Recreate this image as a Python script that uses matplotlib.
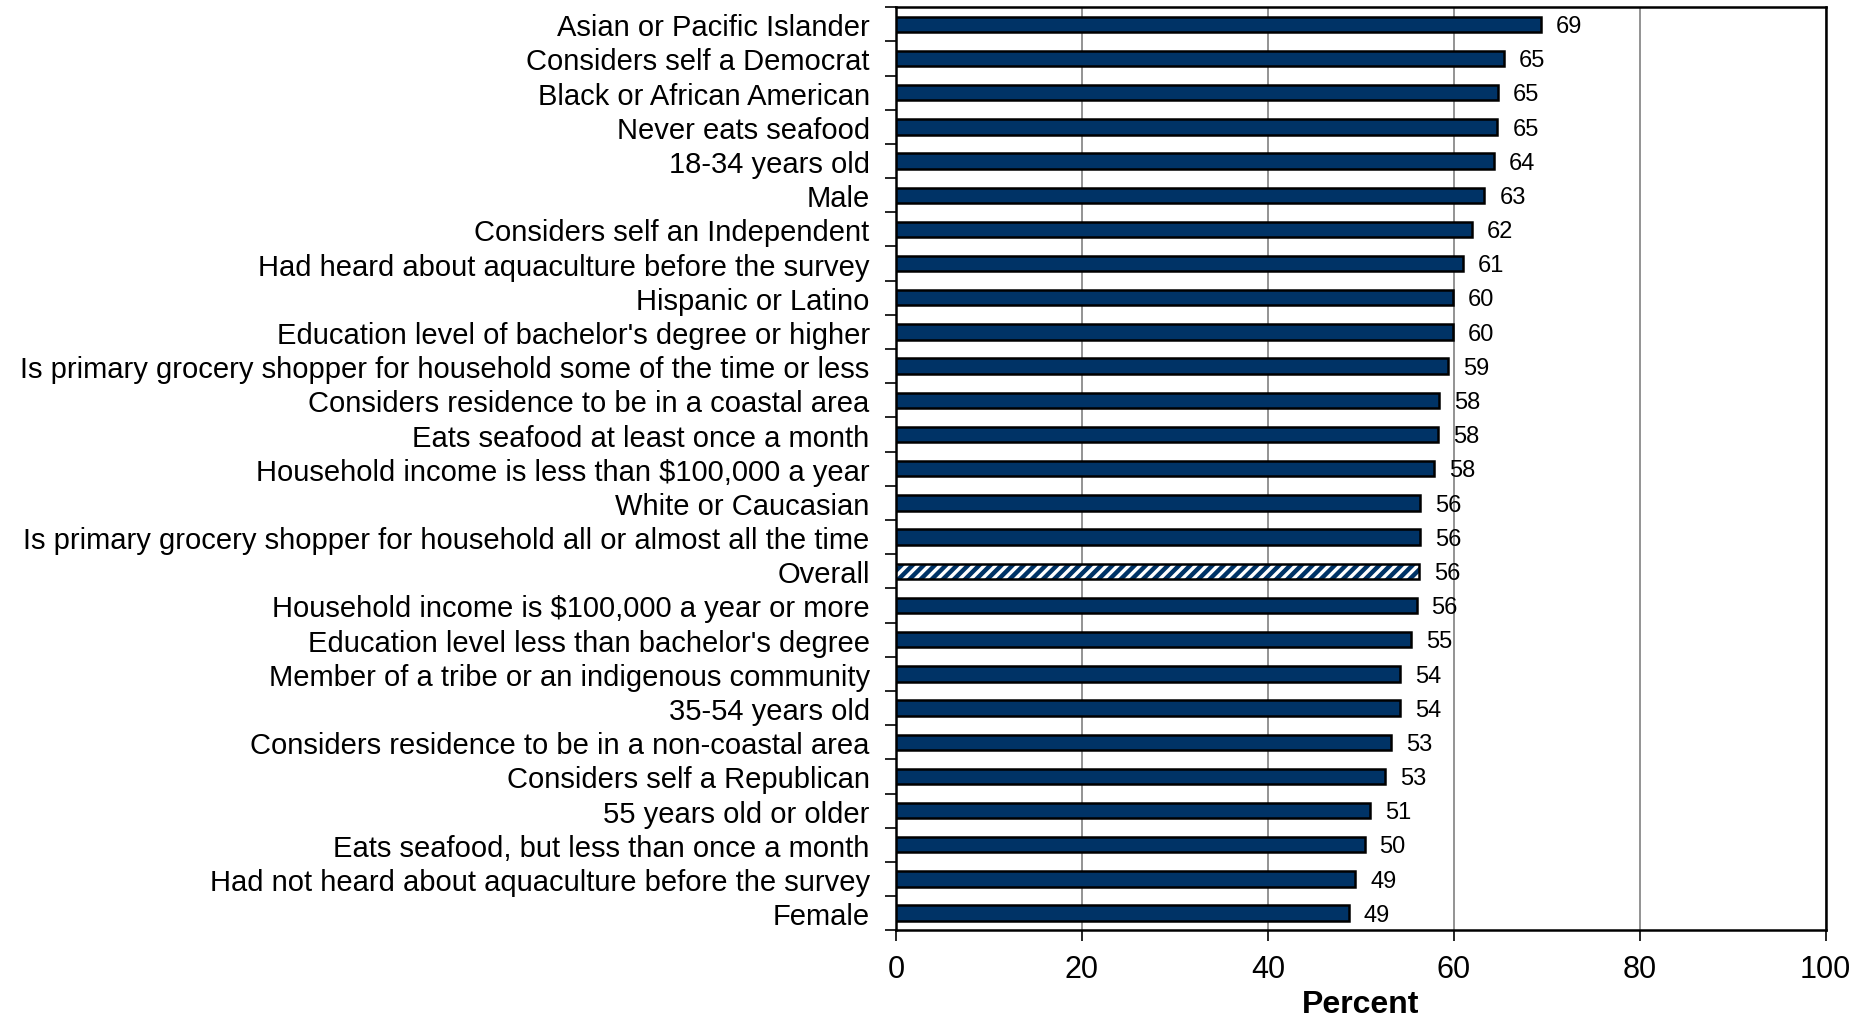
import matplotlib
matplotlib.use("Agg")
import matplotlib.pyplot as plt
import numpy as np

categories = [
    "Asian or Pacific Islander",
    "Considers self a Democrat",
    "Black or African American",
    "Never eats seafood",
    "18-34 years old",
    "Male",
    "Considers self an Independent",
    "Had heard about aquaculture before the survey",
    "Hispanic or Latino",
    "Education level of bachelor's degree or higher",
    "Is primary grocery shopper for household some of the time or less",
    "Considers residence to be in a coastal area",
    "Eats seafood at least once a month",
    "Household income is less than $100,000 a year",
    "White or Caucasian",
    "Is primary grocery shopper for household all or almost all the time",
    "Overall",
    "Household income is $100,000 a year or more",
    "Education level less than bachelor's degree",
    "Member of a tribe or an indigenous community",
    "35-54 years old",
    "Considers residence to be in a non-coastal area",
    "Considers self a Republican",
    "55 years old or older",
    "Eats seafood, but less than once a month",
    "Had not heard about aquaculture before the survey",
    "Female",
]
values = [69.4, 65.4, 64.8, 64.7, 64.3, 63.3, 62.0, 61.0, 59.9, 59.9, 59.4, 58.4,
          58.3, 57.9, 56.4, 56.4, 56.3, 56.0, 55.4, 54.2, 54.2, 53.3, 52.6, 51.0,
          50.4, 49.4, 48.7]
highlight = "Overall"
x_ticks = [0, 20, 40, 60, 80, 100]

NAVY = "#003366"
plt.rcParams["font.family"] = ["Liberation Sans", "DejaVu Sans"]
plt.rcParams["hatch.linewidth"] = 3.2

fig = plt.figure(figsize=(18.59, 10.20), dpi=100)
ax = fig.add_axes([0.482, 0.087, 0.5, 0.905])

y = np.arange(len(categories))
bh = 0.45
for yi, cat, v in zip(y, categories, values):
    if cat == highlight:
        ax.barh(yi, v, height=bh, facecolor="white", edgecolor=NAVY, hatch="///",
                linewidth=0, zorder=3)
        ax.barh(yi, v, height=bh, facecolor="none", edgecolor="black",
                linewidth=1.8, zorder=4)
    else:
        ax.barh(yi, v, height=bh, color=NAVY, edgecolor="black",
                linewidth=1.8, zorder=3)
    ax.text(v + 1.6, yi + 0.05, f"{v:.0f}", va="center", ha="left",
            fontsize=17, zorder=5)

ax.set_ylim(len(categories) - 0.5, -0.5)
ax.set_xlim(0, 100)
ax.set_yticks(y)
ax.set_yticklabels(categories, fontsize=21)
ax.tick_params(axis="y", length=0, pad=19)
ax.set_yticks(np.arange(-0.5, len(categories), 1.0), minor=True)
ax.tick_params(axis="y", which="minor", length=8, width=1.2, direction="out")
ax.set_xticks(x_ticks)
ax.set_xticklabels([str(t) for t in x_ticks], fontsize=22)
ax.tick_params(axis="x", length=8, width=1.2, direction="out", pad=9)
ax.set_xlabel("Percent", fontsize=23, fontweight="bold", labelpad=4)

ax.grid(axis="x", color="#808080", linewidth=1.2, zorder=0)
ax.set_axisbelow(True)
for s in ax.spines.values():
    s.set_linewidth(1.8)
    s.set_color("black")

fig.savefig("out.png", dpi=100, facecolor="white")
